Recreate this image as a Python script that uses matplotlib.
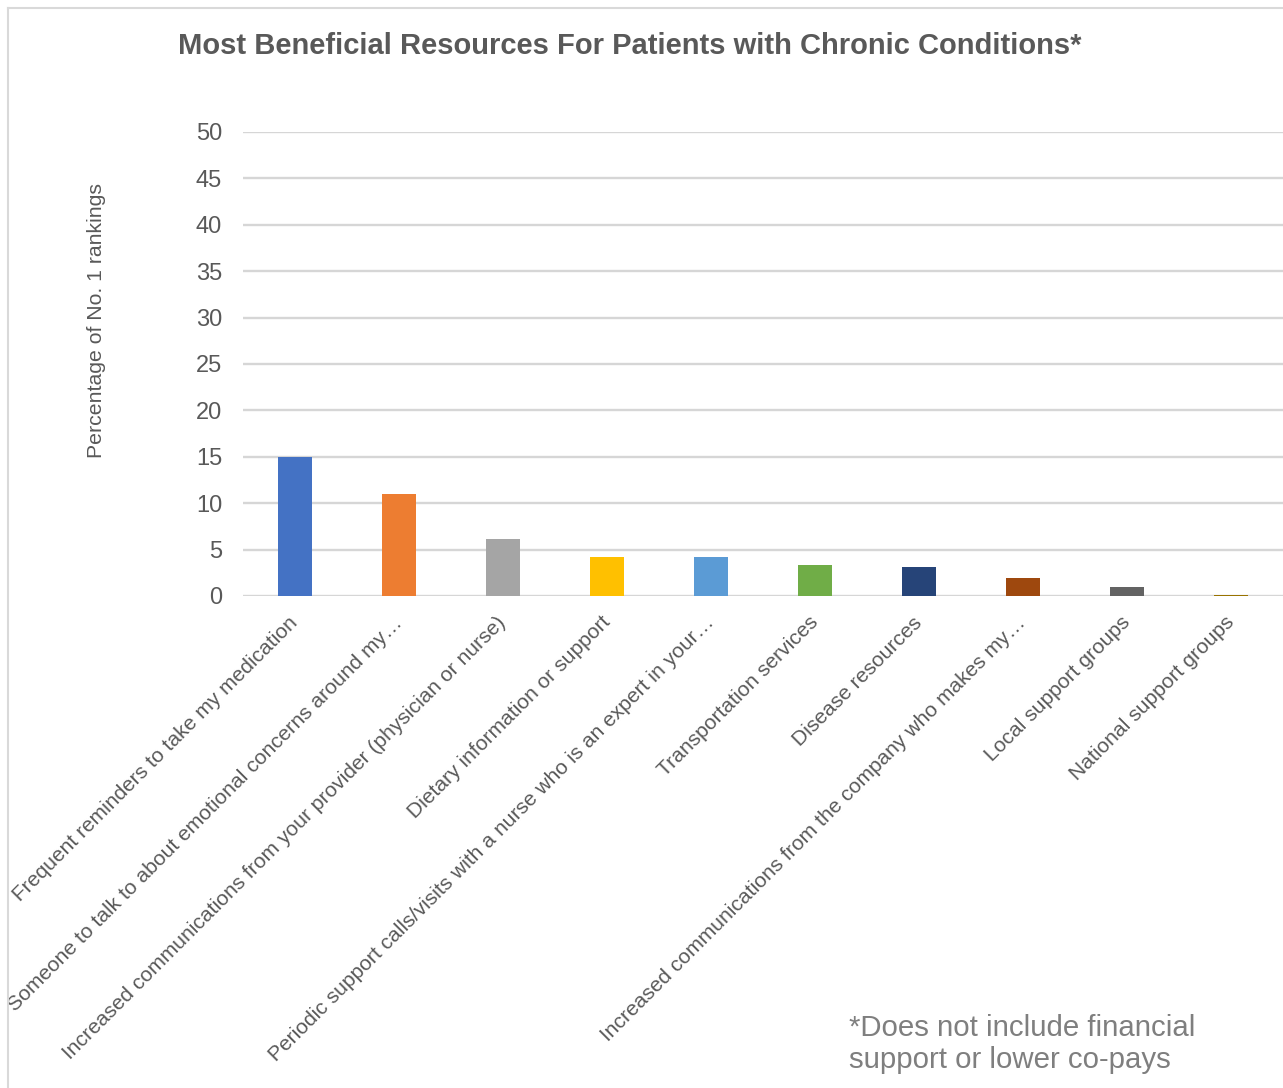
import matplotlib
matplotlib.use("Agg")
import matplotlib.pyplot as plt
from matplotlib.lines import Line2D

categories = [
    "Frequent reminders to take my medication",
    "Someone to talk to about emotional concerns around my\u2026",
    "Increased communications from your provider (physician or nurse)",
    "Dietary information or support",
    "Periodic support calls/visits with a nurse who is an expert in your\u2026",
    "Transportation services",
    "Disease resources",
    "Increased communications from the company who makes my\u2026",
    "Local support groups",
    "National support groups",
]
values = [15.0, 11.0, 6.1, 4.2, 4.2, 3.3, 3.1, 1.9, 1.0, 0.1]
colors = ["#4472C4", "#ED7D31", "#A5A5A5", "#FFC000", "#5B9BD5",
          "#70AD47", "#264478", "#9E480E", "#636363", "#997300"]
yticks = [0, 5, 10, 15, 20, 25, 30, 35, 40, 45, 50]

plt.rcParams['font.family'] = ['Liberation Sans', 'DejaVu Sans']

W, H = 1283, 1088
fig = plt.figure(figsize=(W / 100, H / 100), dpi=100)
# chart-area border (top and left visible)
fig.lines.append(Line2D([7.5 / W, 1.0], [1 - 7.5 / H, 1 - 7.5 / H], transform=fig.transFigure,
                        color="#d9d9d9", linewidth=1.5))
fig.lines.append(Line2D([7.5 / W, 7.5 / W], [0.0, 1 - 7.5 / H], transform=fig.transFigure,
                        color="#d9d9d9", linewidth=1.5))

ax = fig.add_axes([243 / W, (H - 596) / H, (1283 - 243) / W, (596 - 132) / H])
x = list(range(len(categories)))
ax.bar(x, values, width=0.32, color=colors, zorder=3)
ax.set_xlim(-0.5, len(categories) - 0.5)
ax.set_ylim(0, 50)
ax.set_yticks(yticks)
ax.set_yticklabels([str(v) for v in yticks], fontsize=17, color="#595959")
ax.yaxis.grid(True, color="#d6d6d6", linewidth=1.7, zorder=0)
ax.set_axisbelow(True)
for s in ax.spines.values():
    s.set_visible(False)
ax.tick_params(axis="y", length=0, pad=15)
ax.tick_params(axis="x", length=0, pad=17)
ax.set_xticks(x)
ax.set_xticklabels(categories, rotation=45, ha="right", va="center", rotation_mode="anchor",
                   fontsize=15.1, color="#595959")

fig.text(97 / W, 1 - 320 / H, "Percentage of No. 1 rankings", rotation=90,
         ha="center", va="center", fontsize=15.3, color="#595959")
fig.text(630 / W, 1 - 46 / H, "Most Beneficial Resources For Patients with Chronic Conditions*",
         ha="center", va="center", fontsize=21, fontweight="bold", color="#595959")
fig.text(849 / W, 1 - 1044 / H, "*Does not include financial\nsupport or lower co-pays",
         ha="left", va="center", fontsize=21.2, color="#7f7f7f", linespacing=1.2)

fig.savefig("out.png", dpi=100)
